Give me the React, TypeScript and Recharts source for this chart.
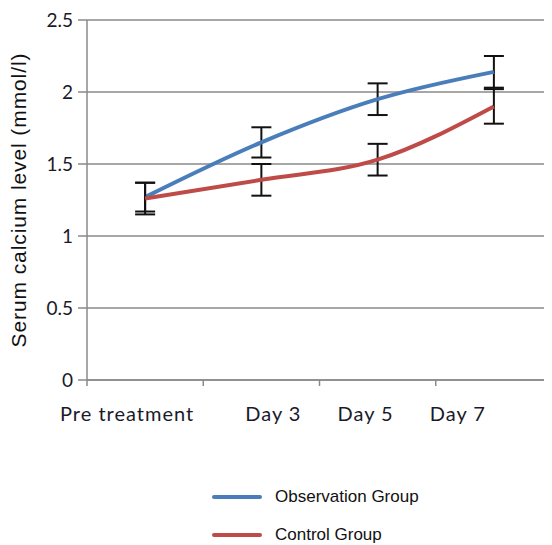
import {
  CartesianGrid,
  ErrorBar,
  Legend,
  Line,
  LineChart,
  XAxis,
  YAxis,
} from "recharts";

const categories = ["Pre treatment", "Day 3", "Day 5", "Day 7"];
const observation = [1.27, 1.65, 1.95, 2.14];
const observationErr = [0.1, 0.105, 0.11, 0.11];
const control = [1.26, 1.39, 1.53, 1.9];
const controlErr = [0.11, 0.11, 0.11, 0.12];
const yTicks = [0, 0.5, 1, 1.5, 2, 2.5];

const data = categories.map((name, i) => ({
  name,
  observation: observation[i],
  observationErr: observationErr[i],
  control: control[i],
  controlErr: controlErr[i],
}));

const W = 552;
const H = 545;
const LEFT = 87;
const HALF_BAND = (W - LEFT) / 8;
// the original labels sit a little off their category centres
const labelShift = [-18, 12, -12, -36];

const BLUE = "#4a7ebb";
const RED = "#be4b48";
const AXIS = "#8a8a8a";
const tickFont = "Lato, 'Open Sans', sans-serif";

const XTick = (props: any) => {
  const { x, y, payload, index } = props;
  return (
    <g>
      <line x1={x - HALF_BAND} x2={x - HALF_BAND} y1={y - 8} y2={y - 2} stroke={AXIS} strokeWidth={1.5} />
      <text
        x={x + (labelShift[index] ?? 0)}
        y={y + 33}
        textAnchor="middle"
        fontFamily={tickFont}
        fontSize={20}
        letterSpacing={1}
        fill="#1a1a2a"
      >
        {payload.value}
      </text>
    </g>
  );
};

const LegendBox = () => (
  <div style={{ fontFamily: "'Liberation Sans', Arial, sans-serif", fontSize: 17, color: "#111" }}>
    {[
      { name: "Observation Group", color: BLUE },
      { name: "Control Group", color: RED },
    ].map((item) => (
      <div key={item.name} style={{ display: "flex", alignItems: "center", height: 38 }}>
        <div style={{ width: 50, height: 4, background: item.color, borderRadius: 2, marginRight: 13 }} />
        <span>{item.name}</span>
      </div>
    ))}
  </div>
);

const App = () => {
  return (
    <div style={{ marginTop: -8, marginLeft: -8, width: W, height: H, background: "#fff" }}>
      <LineChart width={W} height={H} data={data} margin={{ top: 20, right: 0, left: 0, bottom: 0 }}>
        <CartesianGrid vertical={false} stroke={AXIS} strokeWidth={1.5} />
        <XAxis
          dataKey="name"
          height={165}
          padding={{ left: HALF_BAND, right: HALF_BAND }}
          axisLine={{ stroke: AXIS, strokeWidth: 1.5 }}
          tickLine={false}
          tick={<XTick />}
          interval={0}
        />
        <YAxis
          width={LEFT}
          domain={[0, 2.5]}
          ticks={yTicks}
          interval={0}
          axisLine={{ stroke: AXIS, strokeWidth: 1.5 }}
          tickLine={{ stroke: AXIS, strokeWidth: 1.5 }}
          tickSize={9}
          tickMargin={5}
          tick={{ fontFamily: tickFont, fontSize: 19, fill: "#1a1a2a" }}
          label={{
            value: "Serum calcium level (mmol/l)",
            angle: -90,
            position: "insideLeft",
            dx: 14,
            dy: 0,
            style: {
              textAnchor: "middle",
              fontFamily: "'Liberation Sans', Arial, sans-serif",
              fontSize: 21,
              letterSpacing: 0.9,
              fill: "#111",
            },
          }}
        />
        <Legend
          verticalAlign="middle"
          layout="horizontal"
          content={<LegendBox />}
          wrapperStyle={{ top: 478, left: 212, width: 260, height: 80 }}
        />
        <Line
          type="monotone"
          dataKey="observation"
          name="Observation Group"
          stroke={BLUE}
          strokeWidth={4}
          dot={false}
          isAnimationActive={false}
        >
          <ErrorBar dataKey="observationErr" width={10} stroke="#111" strokeWidth={2} direction="y" />
        </Line>
        <Line
          type="monotone"
          dataKey="control"
          name="Control Group"
          stroke={RED}
          strokeWidth={4}
          dot={false}
          isAnimationActive={false}
        >
          <ErrorBar dataKey="controlErr" width={10} stroke="#111" strokeWidth={2} direction="y" />
        </Line>
      </LineChart>
    </div>
  );
};

export default App;
